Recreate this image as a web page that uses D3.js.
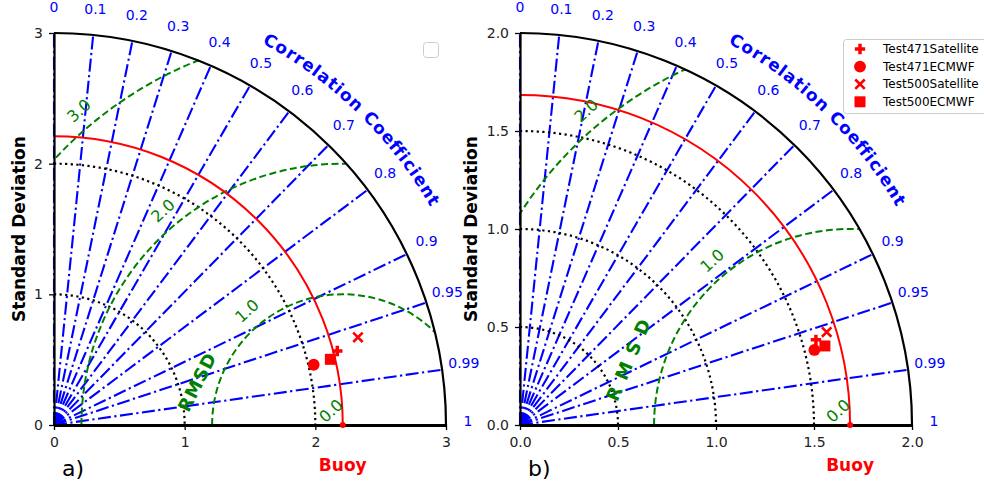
<!DOCTYPE html>
<html>
<head>
<meta charset="utf-8">
<script src="https://cdn.jsdelivr.net/npm/d3@7"></script>
<style>
body { margin: 0; background: #fff; }
svg { font-family: "DejaVu Sans", sans-serif; }
</style>
</head>
<body>
<svg id="chart" width="984" height="493"></svg>
<script>
// correlation ticks, shared by both panels
const corrTicks = [0, 0.1, 0.2, 0.3, 0.4, 0.5, 0.6, 0.7, 0.8, 0.9, 0.95, 0.99, 1];
const seriesNames = ["Test471Satellite", "Test471ECMWF", "Test500Satellite", "Test500ECMWF"];
const seriesSymbols = ["plus", "circle", "cross", "square"];

// panel a
const stdTicksA = [0, 1, 2, 3];
const rmsTicksA = [0, 1, 2, 3];
const refStdA = 2.21;
const stdA = [2.241, 2.040, 2.421, 2.174];
const corrA = [0.9675, 0.9741, 0.9608, 0.9729];

// panel b
const stdTicksB = [0, 0.5, 1.0, 1.5, 2.0];
const rmsTicksB = [0, 1, 2];
const refStdB = 1.684;
const stdB = [1.571, 1.550, 1.635, 1.607];
const corrB = [0.961, 0.969, 0.957, 0.968];

const svg = d3.select("#chart");
const R = 392;
const deg = Math.PI / 180;
const blue = "#0000ff", green = "#008000", red = "#ff0000";

function quarterArc(rad) {
    const p = d3.path();
    p.arc(0, 0, rad, -Math.PI / 2, 0);
    return p.toString();
}

function symbolPath(type) {
    if (type === "plus") return d3.symbol(d3.symbolCross, 60)();
    if (type === "circle") return d3.symbol(d3.symbolCircle, 110)();
    if (type === "cross") return d3.symbol(d3.symbolX, 60)();
    return d3.symbol(d3.symbolSquare, 121)();
}

function drawMarker(sel, type) {
    const m = sel.append("path").attr("d", symbolPath(type));
    if (type === "cross") m.attr("fill", "none").attr("stroke", red).attr("stroke-width", 2.6);
    else m.attr("fill", red);
    return m;
}

// place a string letter by letter along an arc (baseline radius rad, centred at angle mid)
function arcText(g, str, rad, mid, spacing, attrs) {
    const tmp = g.append("text").style("white-space", "pre").attr("font-size", attrs.size)
        .attr("font-weight", attrs.weight).text(str);
    const widths = str.split("").map((c, i) => tmp.node().getSubStringLength(i, 1));
    tmp.remove();
    const total = d3.sum(widths) + spacing * (str.length - 1);
    const start = mid * deg + (total / 2) / rad;
    let s = 0;
    str.split("").forEach((c, i) => {
        const th = start - (s + widths[i] / 2) / rad;
        s += widths[i] + spacing;
        if (c === " ") return;
        g.append("text")
            .attr("transform", `translate(${rad * Math.cos(th)},${-rad * Math.sin(th)}) rotate(${90 - th / deg})`)
            .attr("text-anchor", "middle")
            .attr("font-size", attrs.size).attr("font-weight", attrs.weight).attr("fill", attrs.fill)
            .text(c);
    });
}

function drawPanel(p) {
    const max = d3.max(p.stdTicks);
    const r = d3.scaleLinear().domain([0, max]).range([0, R]);
    const yr = d3.scaleLinear().domain([0, max]).range([0, -R]);
    const g = svg.append("g").attr("transform", `translate(${p.ox},${p.oy})`);

    const px = (s, c) => r(s * c);
    const py = (s, c) => yr(s * Math.sqrt(1 - c * c));

    g.append("clipPath").attr("id", "clip" + p.tag)
        .append("path").attr("d", `M0,0L0,${-R}A${R},${R} 0 0 1 ${R},0Z`);

    // correlation rays
    g.append("g").selectAll("line").data(corrTicks).join("line")
        .attr("x1", 0).attr("y1", 0)
        .attr("x2", d => px(max, d)).attr("y2", d => py(max, d))
        .attr("stroke", blue).attr("stroke-width", 2.1)
        .attr("stroke-dasharray", "13,3.5,2.2,3.5");

    // std dev dotted arcs
    g.append("g").selectAll("path").data(p.stdTicks.filter(t => t > 0 && t < max)).join("path")
        .attr("d", d => quarterArc(r(d)))
        .attr("fill", "none").attr("stroke", "#000").attr("stroke-width", 2.2)
        .attr("stroke-dasharray", "2.2,3.4");

    // RMSD contours around the reference point
    const cx = r(p.refStd);
    g.append("g").attr("clip-path", `url(#clip${p.tag})`)
        .selectAll("path").data(p.rmsTicks.filter(t => t > 0)).join("path")
        .attr("d", d => { const q = d3.path(); q.arc(cx, 0, r(d), Math.PI, 2 * Math.PI); return q.toString(); })
        .attr("fill", "none").attr("stroke", green).attr("stroke-width", 2)
        .attr("stroke-dasharray", "7,3.5");

    // reference arc
    g.append("path").attr("d", quarterArc(cx))
        .attr("fill", "none").attr("stroke", red).attr("stroke-width", 2);

    // outer arc
    g.append("path").attr("d", quarterArc(R))
        .attr("fill", "none").attr("stroke", "#000").attr("stroke-width", 2.2);

    // RMSD labels
    const off = r(max * 0.047);
    g.append("g").selectAll("text").data(p.rmsTicks).join("text")
        .attr("transform", d => {
            const rr = r(d) + off;
            return `translate(${cx + rr * Math.cos(130 * deg)},${-rr * Math.sin(130 * deg)}) rotate(-42)`;
        })
        .attr("text-anchor", "middle").attr("dominant-baseline", "central")
        .attr("font-size", 16).attr("fill", green)
        .text(d => d3.format(".1f")(d));

    // RMSD title
    const tr = r(p.rmsdTitle.dist);
    g.append("text")
        .attr("transform", `translate(${cx + tr * Math.cos(p.rmsdTitle.angle * deg)},${-tr * Math.sin(p.rmsdTitle.angle * deg)}) rotate(${p.rmsdTitle.rot})`)
        .attr("text-anchor", "middle").attr("dominant-baseline", "central")
        .attr("font-size", 18).attr("font-weight", "bold").attr("fill", green)
        .attr("letter-spacing", p.rmsdTitle.spacing)
        .text("RMSD");

    // correlation tick labels
    g.append("g").selectAll("text").data(corrTicks).join("text")
        .attr("x", d => px(max * 1.056, d))
        .attr("y", d => py(max * 1.056, d) - 4)
        .attr("text-anchor", "middle").attr("dominant-baseline", "central")
        .attr("font-size", 14).attr("fill", blue)
        .text(d => String(d));

    // correlation title along the arc
    arcText(g, "Correlation Coefficient", 435, 45.75, 1.0,
        { size: 17, weight: "bold", fill: blue });

    // axes
    const xAxis = g.append("g")
        .call(d3.axisBottom(r).tickValues(p.stdTicks).tickFormat(p.fmt).tickSize(5).tickSizeOuter(0).tickPadding(7));
    const yAxis = g.append("g")
        .call(d3.axisLeft(yr).tickValues(p.stdTicks).tickFormat(p.fmt).tickSize(5).tickSizeOuter(0).tickPadding(6));
    [xAxis, yAxis].forEach(a => {
        a.attr("font-size", 14).attr("font-family", "DejaVu Sans");
        a.selectAll(".tick line").attr("stroke-width", 1.3);
        a.selectAll(".tick text").attr("fill", "#222");
    });
    xAxis.select(".domain").attr("stroke-width", 3.2);
    yAxis.select(".domain").attr("stroke-width", 2.2);

    // reference point
    g.append("circle").attr("cx", cx).attr("cy", 0).attr("r", 3).attr("fill", red);

    // data markers
    p.std.forEach((s, i) => {
        drawMarker(g, seriesSymbols[i])
            .attr("transform", `translate(${px(s, p.corr[i])},${py(s, p.corr[i])})`);
    });

    // axis titles
    g.append("text")
        .attr("transform", `translate(${p.yLabelX},${-R / 2}) rotate(-90)`)
        .attr("text-anchor", "middle")
        .attr("font-size", 17).attr("font-weight", "bold")
        .text("Standard Deviation");
    g.append("text").attr("x", cx).attr("y", 46)
        .attr("text-anchor", "middle")
        .attr("font-size", 17).attr("font-weight", "bold").attr("fill", red)
        .text("Buoy");
    g.append("text").attr("x", 8).attr("y", 51)
        .attr("font-size", 22)
        .text(p.tag + ")");
}

drawPanel({
    tag: "a", ox: 54, oy: 425,
    stdTicks: stdTicksA, rmsTicks: rmsTicksA, refStd: refStdA,
    std: stdA, corr: corrA, fmt: d3.format("d"),
    yLabelX: -29,
    rmsdTitle: { dist: 1.163, angle: 163.5, rot: -63, spacing: 1 }
});
drawPanel({
    tag: "b", ox: 520, oy: 425,
    stdTicks: stdTicksB, rmsTicks: rmsTicksB, refStd: refStdB,
    std: stdB, corr: corrB, fmt: d3.format(".1f"),
    yLabelX: -43,
    rmsdTitle: { dist: 1.177, angle: 162.6, rot: -67, spacing: 9 }
});

// empty legend box of panel a
svg.append("rect").attr("x", 423.5).attr("y", 42.5).attr("width", 15).attr("height", 15)
    .attr("rx", 3).attr("fill", "#fff").attr("stroke", "#cccccc");

// legend of panel b
const legend = svg.append("g").attr("transform", "translate(843,39)");
legend.append("rect").attr("x", 0.5).attr("y", 0.5).attr("width", 150).attr("height", 74)
    .attr("rx", 3).attr("fill", "#fff").attr("stroke", "#cccccc");
const rows = legend.selectAll(".row").data(seriesNames).join("g")
    .attr("class", "row")
    .attr("transform", (d, i) => `translate(0,${10 + i * 17.6})`);
rows.each(function (d, i) { drawMarker(d3.select(this), seriesSymbols[i]).attr("transform", "translate(17,0)"); });
rows.append("text").attr("x", 40).attr("dominant-baseline", "central")
    .attr("font-size", 12).text(d => d);
</script>
</body>
</html>
